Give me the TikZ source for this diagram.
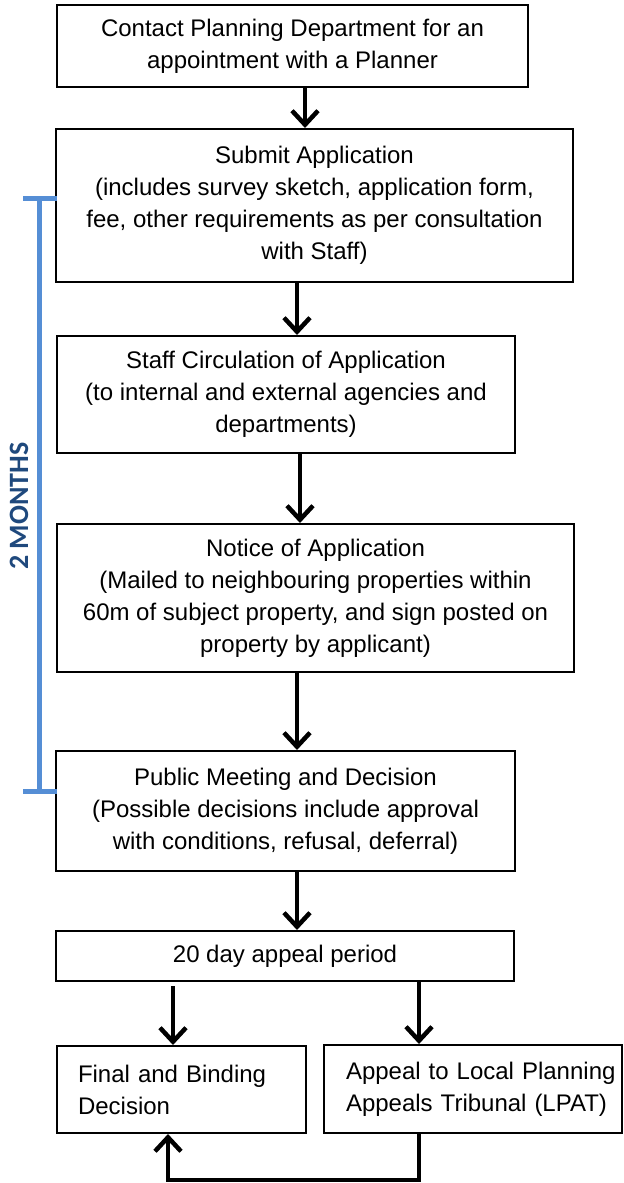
\documentclass[tikz,border=0pt]{standalone}
\usepackage{fontspec}
\setmainfont{Liberation Sans}
\newfontfamily\carlito{Carlito}
\usetikzlibrary{arrows.meta}
\definecolor{bracketblue}{RGB}{85,142,213}
\definecolor{monthsblue}{RGB}{31,73,125}
\begin{document}
\begin{tikzpicture}[x=0.5pt,y=-0.5pt,
  box/.style={draw, line width=1pt, rectangle, align=center, inner sep=0pt,
    font=\fontsize{12pt}{16pt}\selectfont},
  leftbox/.style={box, align=left},
  flow/.style={line width=2.25pt, -{Straight Barb[length=7pt,width=13pt]}},
  bracket/.style={draw=bracketblue, line width=2.5pt}]
\useasboundingbox (0,0) rectangle (624,1183);
\node[box, minimum width=235.5pt, minimum height=41pt] (b1) at (292.5,46)
  {Contact Planning Department for an\\appointment with a Planner};
\node[box, minimum width=258.5pt, minimum height=76.5pt] (b2) at (314.5,205.5)
  {Submit Application\\(includes survey sketch, application form,\\fee, other requirements as per consultation\\with Staff)};
\node[box, minimum width=229pt, minimum height=58.5pt] (b3) at (286,394.5)
  {Staff Circulation of Application\\(to internal and external agencies and\\departments)};
\node[box, minimum width=258.5pt, minimum height=74pt] (b4) at (315.5,598)
  {Notice of Application\\(Mailed to neighbouring properties within\\60m of subject property, and sign posted on\\property by applicant)};
\node[box, minimum width=229.5pt, minimum height=60pt] (b5) at (285.5,811)
  {Public Meeting and Decision\\(Possible decisions include approval\\with conditions, refusal, deferral)};
\node[box, minimum width=229pt, minimum height=25pt] (b6) at (285,956)
  {20 day appeal period};
\node[leftbox, text width=124.5pt, minimum height=43.5pt] (b7) at (181.5,1089.5)
  {\hspace*{10.5pt}Final and Binding\\\hspace*{10.5pt}Decision};
\node[leftbox, text width=149pt, minimum height=44pt] (b8) at (473,1089)
  {\hspace*{11pt}Appeal to Local Planning\\\hspace*{11pt}Appeals Tribunal (LPAT)};
% connector x positions
\coordinate (c305) at (305,0);
\coordinate (c297) at (297,0);
\coordinate (c300) at (300,0);
\coordinate (c173) at (173,0);
\coordinate (c168) at (168,0);
\coordinate (c419) at (419,0);
\coordinate (cb) at (0,1180);
\draw[flow] (b1.south -| c305) -- (b2.north -| c305);
\draw[flow] (b2.south -| c297) -- (b3.north -| c297);
\draw[flow] (b3.south -| c300) -- (b4.north -| c300);
\draw[flow] (b4.south -| c297) -- (b5.north -| c297);
\draw[flow] (b5.south -| c297) -- (b6.north -| c297);
\draw[flow, shorten <=2pt] (b6.south -| c173) -- (b7.north -| c173);
\draw[flow] (b6.south -| c419) -- (b8.north -| c419);
\draw[flow] (b8.south -| c419) -- (c419 |- cb) -| (b7.south -| c168);
% 2 months bracket
\draw[bracket] (23,198) -- (57,198);
\draw[bracket] (39,198) -- (39,791);
\draw[bracket] (23,791) -- (57,791);
\node[rotate=90, text=monthsblue, inner sep=0pt,
  font=\carlito\bfseries\fontsize{14pt}{14pt}\selectfont] (months) at (19,506) {2 MONTHS};
\end{tikzpicture}
\end{document}
